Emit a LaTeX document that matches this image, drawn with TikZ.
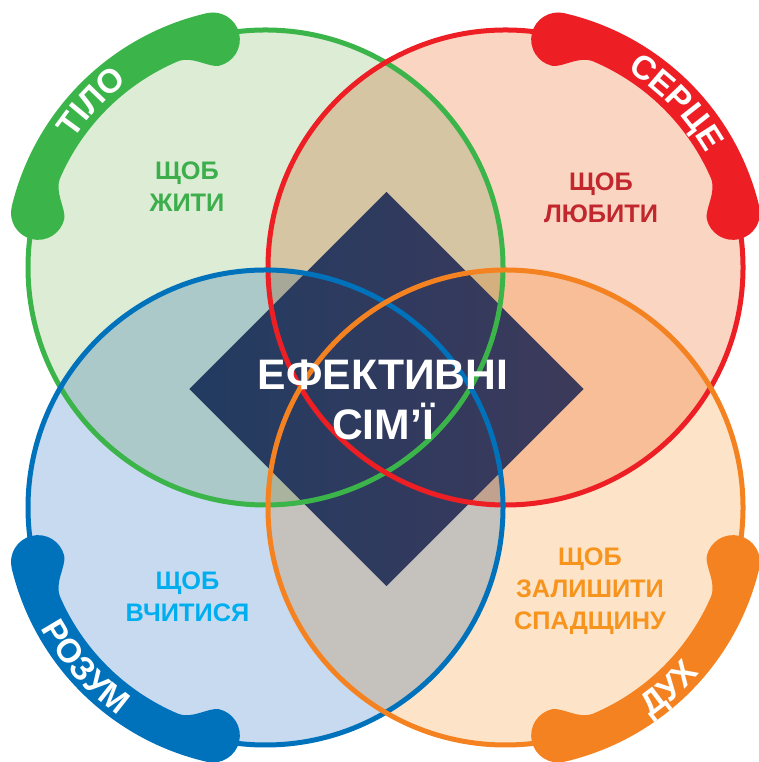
\documentclass[tikz,border=0pt]{standalone}
\usepackage{fontspec}
\setmainfont{Liberation Sans}
\usetikzlibrary{decorations.text,shapes.geometric}

\definecolor{tiloLine}{HTML}{3BB44A}
\definecolor{tiloFill}{HTML}{DCECD5}
\definecolor{tiloText}{HTML}{3CAE4B}
\definecolor{serLine}{HTML}{ED1F24}
\definecolor{serFill}{HTML}{F9D5C2}
\definecolor{serText}{HTML}{C1272D}
\definecolor{rozLine}{HTML}{0072BC}
\definecolor{rozFill}{HTML}{C7DAF0}
\definecolor{rozText}{HTML}{00AEEF}
\definecolor{dukhLine}{HTML}{F58220}
\definecolor{dukhFill}{HTML}{FDE4C9}
\definecolor{dukhText}{HTML}{F7941D}
\definecolor{coreLeft}{HTML}{223B61}
\definecolor{coreRight}{HTML}{3D3A5B}

\newcommand\bandfont{\fontsize{25}{25}\selectfont\bfseries}

\begin{document}
\begin{tikzpicture}[x=0.75pt, y=0.75pt,
  ring/.style = {line width=3.75pt},
  aim/.style = {font=\fontsize{19}{24}\selectfont\bfseries,
    align=center, inner sep=0pt},
  tag/.style = {decorate, decoration={text along path, text align=center,
    text color=white, text={|\bandfont|#1}}}]
  \useasboundingbox (0,0) rectangle (758,762);

  \coordinate (tilo) at (265.5,494.5);
  \coordinate (sertse) at (505.5,494.5);
  \coordinate (rozum) at (265.5,254.5);
  \coordinate (dukh) at (505.5,254.5);

  % light discs, overlaps darken each other
  \begin{scope}[blend group=multiply]
    \fill[tiloFill] (tilo) circle[radius=237.5];
    \fill[serFill] (sertse) circle[radius=237.5];
    \fill[rozFill] (rozum) circle[radius=237.5];
    \fill[dukhFill] (dukh) circle[radius=237.5];
  \end{scope}

  \node[diamond, aspect=1, minimum size=296pt, inner sep=0pt,
    left color=coreLeft, right color=coreRight] (core) at (386.5,373) {};

  \draw[ring, tiloLine] (tilo) circle[radius=237.5];
  \draw[ring, serLine] (sertse) circle[radius=237.5];
  \draw[ring, rozLine] (rozum) circle[radius=237.5];
  \draw[ring, dukhLine] (dukh) circle[radius=237.5];

  % bands, a bit thicker at both ends
  \foreach \c/\a/\b/\col in {tilo/103/166.5/tiloLine, sertse/13.5/77/serLine,
      rozum/193.5/257/rozLine, dukh/283/346.5/dukhLine} {
    \fill[\col, shift={(\c)}] (\a:261) arc[start angle=\a, end angle=\b, radius=261]
      arc[start angle=\b, delta angle=180, radius=27]
      .. controls ({\b-3}:208) and ({\b-6}:224) .. ({\b-10}:224)
      arc[start angle=\b-10, end angle=\a+10, radius=224]
      .. controls ({\a+6}:224) and ({\a+3}:208) .. (\a:207)
      arc[start angle=\a+180, delta angle=180, radius=27] -- cycle;
  }

  \path[tag=ТІЛО] ([shift={(tilo)}]166:231) arc[start angle=166, end angle=107, radius=231];
  \path[tag=СЕРЦЕ] ([shift={(sertse)}]74:231) arc[start angle=74, end angle=14, radius=231];
  \path[tag=РОЗУМ] ([shift={(rozum)}]192:255) arc[start angle=192, end angle=251, radius=255];
  \path[tag=ДУХ] ([shift={(dukh)}]282:255) arc[start angle=282, end angle=342, radius=255];

  \node[aim, text=tiloText] (zhyty) at (187,575) {ЩОБ\\ЖИТИ};
  \node[aim, text=serText] (lyubyty) at (601,564) {ЩОБ\\ЛЮБИТИ};
  \node[aim, text=rozText] (vchytysia) at (187.5,165) {ЩОБ\\ВЧИТИСЯ};
  \node[aim, text=dukhText] (spadshchyna) at (590,171) {ЩОБ\\ЗАЛИШИТИ\\СПАДЩИНУ};

  \node[font=\fontsize{32}{37.5}\selectfont\bfseries, text=white,
    align=center, inner sep=0pt] (title) at (383,362) {ЕФЕКТИВНІ\\СІМ’Ї};
\end{tikzpicture}
\end{document}
